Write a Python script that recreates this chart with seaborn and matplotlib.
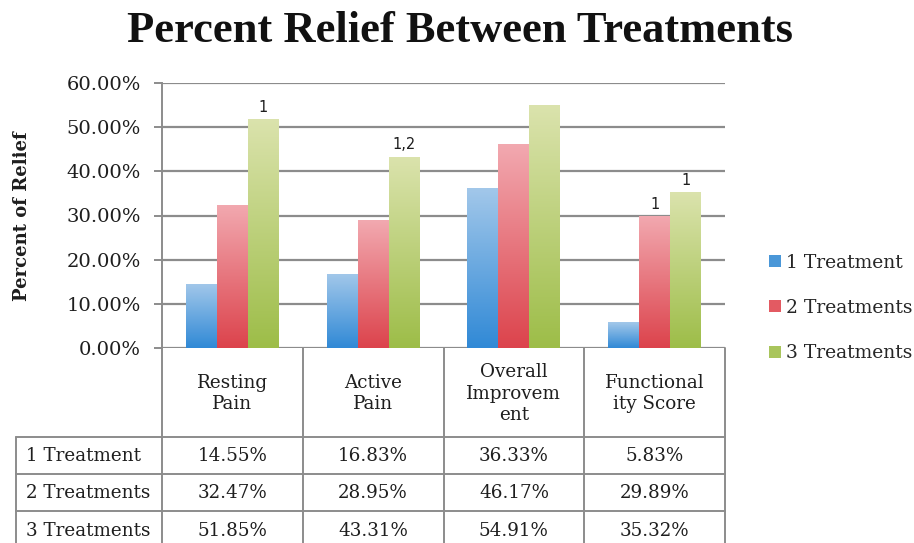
import numpy as np
import pandas as pd
import matplotlib
matplotlib.use("Agg")
import matplotlib.pyplot as plt
import seaborn as sns
from matplotlib.colors import LinearSegmentedColormap
from matplotlib.patches import Patch

# ---------------- data ----------------
categories = ["Resting\nPain", "Active\nPain", "Overall\nImprovem\nent", "Functional\nity Score"]
series = ["1 Treatment", "2 Treatments", "3 Treatments"]
one_treatment = [14.55, 16.83, 36.33, 5.83]
two_treatments = [32.47, 28.95, 46.17, 29.89]
three_treatments = [51.85, 43.31, 54.91, 35.32]
sig_one = ["", "", "", ""]
sig_two = ["", "", "", "1"]
sig_three = ["1", "1,2", "", "1"]
y_ticks = [0, 10, 20, 30, 40, 50, 60]

values = [one_treatment, two_treatments, three_treatments]
sigs = [sig_one, sig_two, sig_three]

rows = []
for s, vals in zip(series, values):
    for c, v in zip(categories, vals):
        rows.append({"category": c, "series": s, "value": v})
df = pd.DataFrame(rows)

# ---------------- style ----------------
sns.set_style("white")
plt.rcParams["font.family"] = ["DejaVu Serif"]

base_colors = ["#4a97d8", "#e35a62", "#a9c55c"]
top_colors = ["#a3c8ea", "#f2a9b0", "#dbe3ad"]
bottom_colors = ["#3089d6", "#dc434c", "#9dbd48"]
grid_color = "#8c8c8c"
text_color = "#1e1e1e"

W, H = 914, 543
fig = plt.figure(figsize=(W / 100, H / 100), dpi=100)

def fx(px):
    return px / W

def fy(py):
    return 1 - py / H

ax_left, ax_right, ax_top, ax_bot = 162, 725, 83, 348
ax = fig.add_axes([fx(ax_left), fy(ax_bot), fx(ax_right - ax_left), (ax_bot - ax_top) / H])

sns.barplot(data=df, x="category", y="value", hue="series", order=categories,
            hue_order=series, palette=base_colors, width=0.66, gap=0,
            legend=False, ax=ax, saturation=1)

# gradient fill for bars
for ci, container in enumerate(ax.containers):
    cmap = LinearSegmentedColormap.from_list("g", [bottom_colors[ci], top_colors[ci]])
    for bar, lab in zip(container.patches, sigs[ci]):
        x0 = bar.get_x()
        w = bar.get_width()
        h = bar.get_height()
        grad = np.linspace(0, 1, 256).reshape(-1, 1)
        im = ax.imshow(grad, extent=[x0, x0 + w, 0, h], origin="lower",
                       aspect="auto", cmap=cmap, zorder=bar.get_zorder())
        im.set_clip_path(bar)
        bar.set_facecolor("none")
        bar.set_edgecolor("none")
        if lab:
            ax.text(x0 + w / 2, h + 1.0, lab, ha="center", va="bottom",
                    fontsize=10.5, color=text_color, family="DejaVu Sans")

ax.set_xlim(-0.5, 3.5)
ax.set_ylim(0, 60)
ax.set_yticks(y_ticks)
ax.set_yticklabels([f"{t:.2f}%" for t in y_ticks], fontsize=14, color=text_color)
ax.set_xticks([])
ax.set_xlabel("")
ax.set_ylabel("")
ax.yaxis.grid(True, color=grid_color, lw=1.6)
ax.set_axisbelow(True)
for side in ["top", "right", "bottom"]:
    ax.spines[side].set_visible(False)
ax.spines["left"].set_color(grid_color)
ax.spines["left"].set_linewidth(1.4)
ax.tick_params(axis="y", length=6, width=1.4, color=grid_color, pad=9, left=True)

# ---------------- title / y label ----------------
fig.text(fx(460), fy(31), "Percent Relief Between Treatments", ha="center", va="center",
         fontsize=32, fontweight="bold", family="Liberation Serif", color="#111111")
fig.text(fx(22), fy(216), "Percent of Relief", rotation=90, ha="center", va="center",
         fontsize=13, fontweight="bold", color=text_color)

# ---------------- data table ----------------
tab = fig.add_axes([fx(ax_left), 0, fx(ax_right - ax_left), fy(ax_bot)])
tab.set_xlim(-0.5, 3.5)
tab.set_ylim(H, ax_bot)
tab.axis("off")
px_per_cat = (ax_right - ax_left) / 4.0
left_edge = -0.5 - (ax_left - 16) / px_per_cat
row_lines = [437, 474, 511]
lkw = dict(color=grid_color, lw=1.4, clip_on=False)
for i in range(5):
    tab.plot([i - 0.5, i - 0.5], [ax_bot, H], **lkw)
tab.plot([left_edge, left_edge], [row_lines[0], H], **lkw)
for r in row_lines:
    tab.plot([left_edge, 3.5], [r, r], **lkw)
for i, c in enumerate(categories):
    tab.text(i, (ax_bot + row_lines[0]) / 2 + 1, c, ha="center", va="center",
             fontsize=13.2, linespacing=1.25, color=text_color)
row_centers = [455.5, 492.5, 531]
for ri, (s, vals) in enumerate(zip(series, values)):
    yc = row_centers[ri]
    tab.text(left_edge + 10 / px_per_cat, yc, s, ha="left", va="center",
             fontsize=13.2, color=text_color, clip_on=False)
    for i, v in enumerate(vals):
        tab.text(i, yc, f"{v:.2f}%", ha="center", va="center", fontsize=13.2,
                 color=text_color)

# ---------------- legend ----------------
handles = [Patch(facecolor=base_colors[i], edgecolor="none") for i in range(3)]
fig.legend(handles, series, loc="center left", bbox_to_anchor=(fx(760), fy(308)),
           frameon=False, fontsize=13.5, handlelength=0.6, handleheight=0.6,
           handletextpad=0.3, labelspacing=1.45, borderpad=0)

fig.savefig("out.png", dpi=100, facecolor="white")
